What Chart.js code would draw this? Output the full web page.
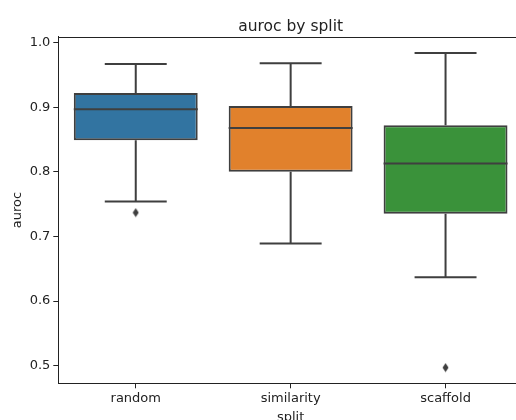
<!DOCTYPE html>
<html>
<head>
<meta charset="utf-8">
<script src="https://cdn.jsdelivr.net/npm/chart.js@4.4.1/dist/chart.umd.min.js"></script>
<style>
  html, body { margin: 0; padding: 0; overflow: hidden; background: #fff; }
  canvas { display: block; }
</style>
</head>
<body>
<canvas id="boxChart" width="528" height="430"></canvas>
<script>
// box statistics per split
const splits = ['random', 'similarity', 'scaffold'];
const whiskerLow = [0.754, 0.689, 0.637];
const q1 = [0.849, 0.800, 0.735];
const median = [0.897, 0.868, 0.813];
const q3 = [0.922, 0.902, 0.872];
const whiskerHigh = [0.967, 0.968, 0.984];
const outliers = [0.737, null, 0.497];
const yTicks = [0.5, 0.6, 0.7, 0.8, 0.9, 1.0];

const boxColors = ['#3274a1', '#e1812c', '#3a923a'];
const lineColor = '#3f3f3f';
const textColor = '#222';
const font = { family: 'DejaVu Sans', size: 13 };

// thin diamond marker for fliers
const diamond = document.createElement('canvas');
diamond.width = 7;
diamond.height = 10;
(function () {
    const c = diamond.getContext('2d');
    c.fillStyle = lineColor;
    c.beginPath();
    c.moveTo(3.5, 0.5);
    c.lineTo(6.5, 5);
    c.lineTo(3.5, 9.5);
    c.lineTo(0.5, 5);
    c.closePath();
    c.fill();
})();

// whiskers, caps, medians and the top/right spines
const boxParts = {
    id: 'boxParts',
    afterDatasetsDraw(chart) {
        const { ctx, chartArea, scales: { x, y } } = chart;
        const bars = chart.getDatasetMeta(0).data;
        ctx.save();
        ctx.strokeStyle = lineColor;
        ctx.lineWidth = 2;
        bars.forEach((bar, i) => {
            const cx = x.getPixelForValue(i);
            const half = bar.width / 2;
            const cap = half / 2;
            const yLow = y.getPixelForValue(whiskerLow[i]);
            const yHigh = y.getPixelForValue(whiskerHigh[i]);
            const yQ1 = y.getPixelForValue(q1[i]);
            const yQ3 = y.getPixelForValue(q3[i]);
            const yMed = y.getPixelForValue(median[i]);
            ctx.beginPath();
            ctx.moveTo(cx, yQ3); ctx.lineTo(cx, yHigh);
            ctx.moveTo(cx, yQ1); ctx.lineTo(cx, yLow);
            ctx.moveTo(cx - cap, yHigh); ctx.lineTo(cx + cap, yHigh);
            ctx.moveTo(cx - cap, yLow); ctx.lineTo(cx + cap, yLow);
            ctx.moveTo(cx - half, yMed); ctx.lineTo(cx + half, yMed);
            ctx.stroke();
        });
        ctx.strokeStyle = textColor;
        ctx.lineWidth = 1;
        ctx.beginPath();
        ctx.moveTo(chartArea.left, Math.round(chartArea.top) + 0.5);
        ctx.lineTo(chartArea.right, Math.round(chartArea.top) + 0.5);
        ctx.lineTo(chartArea.right, chartArea.bottom);
        ctx.stroke();
        ctx.restore();
    }
};

new Chart(document.getElementById('boxChart'), {
    type: 'bar',
    data: {
        labels: splits,
        datasets: [{
            label: 'IQR',
            data: splits.map((_, i) => [q1[i], q3[i]]),
            backgroundColor: boxColors,
            borderColor: lineColor,
            borderWidth: 2,
            borderSkipped: false,
            categoryPercentage: 0.8,
            barPercentage: 1.0
        }, {
            type: 'line',
            label: 'outliers',
            data: outliers,
            showLine: false,
            pointStyle: diamond,
            pointRadius: 4
        }]
    },
    options: {
        responsive: false,
        animation: false,
        layout: { padding: 0 },
        plugins: {
            legend: { display: false },
            tooltip: { enabled: false },
            title: {
                display: true,
                text: 'auroc by split',
                fullSize: false,
                color: textColor,
                font: { family: 'DejaVu Sans', size: 15.5, weight: 'normal' },
                padding: { top: 17.5, bottom: 0.7 }
            }
        },
        scales: {
            x: {
                offset: true,
                grid: { display: true, offset: false, drawOnChartArea: false, tickLength: 5, color: textColor },
                border: { display: true, color: textColor, width: 1 },
                ticks: { font: font, color: textColor, padding: 3 },
                title: { display: true, text: 'split', font: font, color: textColor, padding: { top: 0, bottom: 5 } },
                afterFit(scale) { scale.height = 46.7; }
            },
            y: {
                min: 0.4727,
                max: 1.0091,
                afterBuildTicks(scale) { scale.ticks = yTicks.map(v => ({ value: v })); },
                grid: { display: true, drawOnChartArea: false, tickLength: 5, color: textColor },
                border: { display: true, color: textColor, width: 1 },
                ticks: { font: font, color: textColor, padding: 3, callback: v => v.toFixed(1) },
                title: { display: true, text: 'auroc', font: font, color: textColor, padding: { top: 10, bottom: 0 } },
                afterFit(scale) { scale.width = 58.3; }
            }
        }
    },
    plugins: [boxParts]
});
</script>
</body>
</html>
